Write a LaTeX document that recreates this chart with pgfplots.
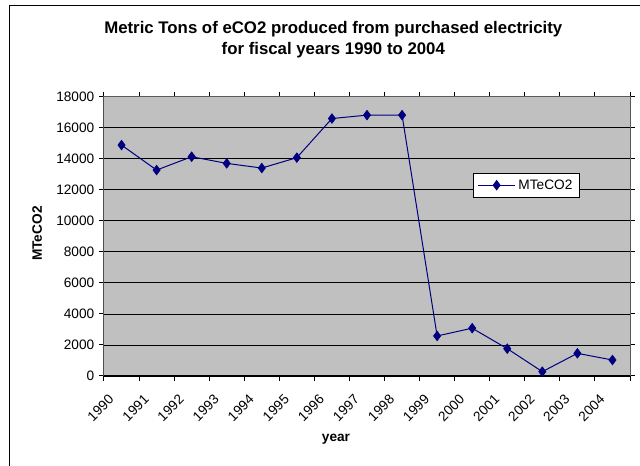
\documentclass[border=0pt]{standalone}
\usepackage{fontspec}
\setmainfont{Liberation Sans}
\usepackage{pgfplots}
\usepackage{pgfplotstable}
\pgfplotsset{compat=1.18}

\definecolor{plotgray}{RGB}{192,192,192}
\definecolor{navyline}{RGB}{0,0,128}
\definecolor{boxline}{RGB}{90,90,90}

% fiscal year index (0 = 1990) and metric tons of eCO2
\pgfplotstableread{
idx val
0 14880
1 13270
2 14130
3 13700
4 13400
5 14070
6 16590
7 16810
8 16810
9 2580
10 3080
11 1760
12 280
13 1460
14 1030
}\emissions

\begin{document}
\begin{tikzpicture}
\path[use as bounding box] (0,0) rectangle (480pt,349.5pt);
% outer chart frame
\draw[line width=0.75pt] (6.75pt,0) -- (6.75pt,345pt) -- (480pt,345pt);
\node[font=\bfseries\fontsize{12.6}{15.75}\selectfont, align=center]
  at (250pt,319.9pt) {Metric Tons of eCO2 produced from purchased electricity\\for fiscal years 1990 to 2004};
\begin{axis}[
  at={(78pt,67.5pt)}, anchor=south west,
  scale only axis, width=394.5pt, height=209.5pt,
  xmin=-0.5, xmax=14.5, ymin=0, ymax=18000,
  axis background/.style={fill=plotgray},
  axis line style={draw=boxline, line width=0.75pt},
  tick align=outside,
  major tick length=3.75pt,
  tick style={black, line width=0.75pt},
  xtick={-0.5,0.5,...,14.5},
  xticklabels={},
  extra x ticks={0,1,...,14},
  extra x tick labels={1990,1991,1992,1993,1994,1995,1996,1997,1998,1999,2000,2001,2002,2003,2004},
  extra x tick style={major tick length=0pt,
    xticklabel style={xshift=-15.75pt, yshift=-24pt, rotate=45, anchor=center}},
  ytick={0,2000,...,18000},
  scaled y ticks=false,
  yticklabel style={/pgf/number format/fixed, /pgf/number format/1000 sep={}},
  ymajorgrids,
  major grid style={black, line width=0.6pt},
  tick label style={font=\fontsize{10.25}{12}\selectfont},
  /pgf/number format/assume math mode=true,
  /pgf/number format/1000 sep={},
  every axis y label/.style={at={(axis description cs:-0.127,0.51)}, rotate=90, anchor=center,
    font=\bfseries\fontsize{10.25}{12}\selectfont},
  every axis x label/.style={at={(axis description cs:0.441,-0.228)}, anchor=center,
    font=\bfseries\fontsize{10.25}{12}\selectfont},
  ylabel={MTeCO2},
  xlabel={year},
  legend style={at={(0.7015,0.7268)}, anchor=north west, draw=black, fill=white,
    line width=0.75pt, font=\fontsize{10.25}{12}\selectfont,
    inner xsep=3pt, inner ysep=2.5pt},
  legend cell align=left,
  legend image code/.code={\draw[mark repeat=2,mark phase=2,#1] plot coordinates {(0pt,0pt) (14pt,0pt) (28pt,0pt)};},
]
\addplot[color=navyline, line width=0.75pt, mark=diamond*, mark size=3.6pt,
  mark options={fill=navyline, draw=navyline, line width=0.5pt}] table[x=idx, y=val] {\emissions};
\addlegendentry{MTeCO2}
\draw[black, line width=0.75pt] (rel axis cs:0,1) -- (rel axis cs:0,0) -- (rel axis cs:1,0);
\end{axis}
\end{tikzpicture}
\end{document}
